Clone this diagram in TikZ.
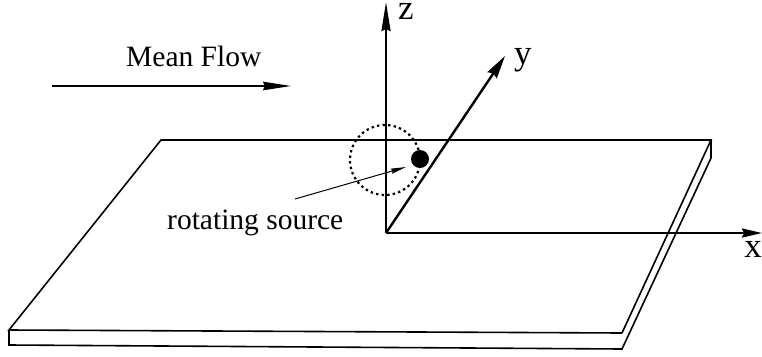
\documentclass[tikz,border=0pt]{standalone}
\usepackage{fontspec}
\setmainfont{Liberation Serif}
\usetikzlibrary{arrows.meta}
\tikzset{
 plate/.style={line width=1.6pt,line join=miter},
 axis/.style={line width=2.4pt},
 label/.style={font=\fontsize{29.5}{32}\selectfont,inner sep=0pt},
 axlabel/.style={font=\fontsize{35}{38}\selectfont,inner sep=0pt},
 flow/.style={line width=1.8pt,-{Stealth[length=28pt,width=8.5pt,inset=2pt]}},
 leader/.style={line width=1pt,-{Stealth[length=15pt,width=5pt,inset=1pt]}}
}
\begin{document}
\begin{tikzpicture}[x=1pt,y=-1pt]
\useasboundingbox (0,0) rectangle (762,356);
\coordinate (tl) at (161,140);
\coordinate (tr) at (711,140);
\coordinate (br) at (622,333);
\coordinate (bl) at (9,330);
\coordinate (trd) at (711,158);
\coordinate (brd) at (622,349);
\coordinate (bld) at (9,345);
\coordinate (o) at (386,233);
\coordinate (zt) at (386,2);
\coordinate (xt) at (762,233);
\coordinate (yt) at (505,56);
\coordinate (fa) at (52,86);
\coordinate (fb) at (291,86);
\coordinate (la) at (295,199);
\coordinate (lb) at (406,167);
\draw[plate] (br) -- (tr) -- (tl) -- (bl) -- (br);
\draw[plate] (tr) -- (trd) -- (brd) -- (bld) -- (bl);
\draw[line width=2.2pt,dash pattern=on 2.4pt off 3.2pt] (385,160) circle[radius=35];
\node[circle,fill=black,minimum size=18pt,inner sep=0pt] (dot) at (420,159) {};
\draw[axis,-{Stealth[length=29pt,width=9pt,inset=2pt]}] (o) -- (zt);
\draw[axis,-{Stealth[length=20pt,width=9pt,inset=2pt]}] (o) -- (xt);
\draw[axis,-{Stealth[length=23pt,width=11pt,inset=2pt]}] (o) -- (yt);
\draw[flow] (fa) -- (fb);
\draw[leader] (la) -- (lb);
\node[label,anchor=base west] (mf) at (126,66) {Mean Flow};
\node[label,anchor=base west] (rs) at (167,229) {rotating source};
\node[axlabel,anchor=base west] (zl) at (398,19) {z};
\node[axlabel,anchor=base west] (yl) at (514,64) {y};
\node[axlabel,anchor=base east] (xl) at (762,257) {x};
\end{tikzpicture}
\end{document}
